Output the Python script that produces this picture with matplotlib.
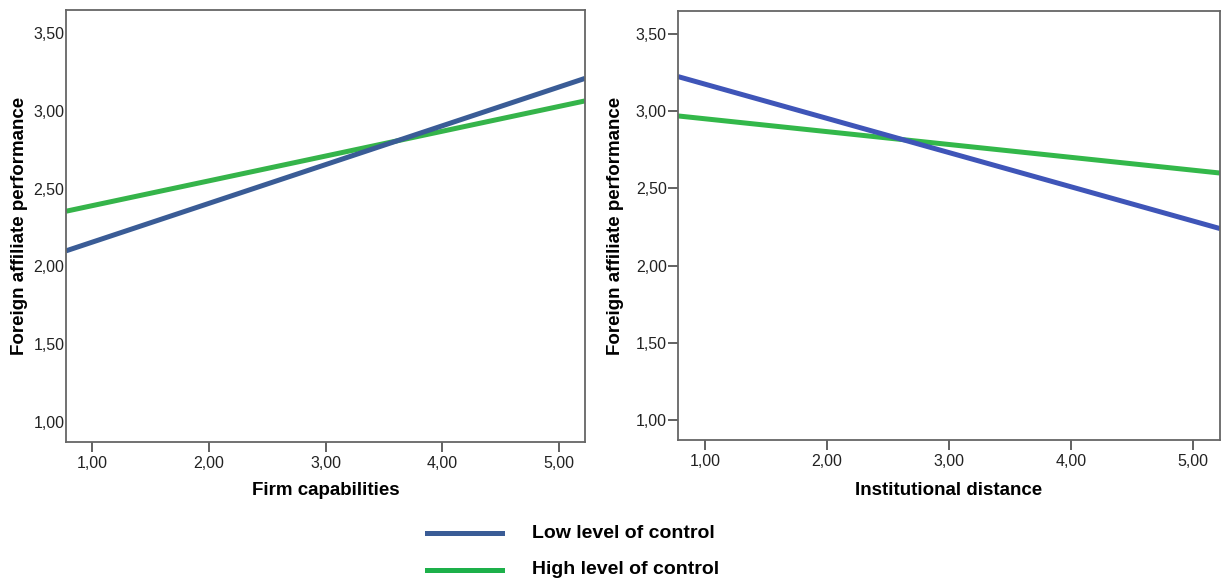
import matplotlib
matplotlib.use("Agg")
import matplotlib.pyplot as plt
from matplotlib.lines import Line2D
from matplotlib.ticker import FuncFormatter

plt.rcParams["font.family"] = ["Liberation Sans", "DejaVu Sans"]

# simple slopes, read at the axis edges
x_ends = [0.776, 5.224]
firm_low = [2.10, 3.21]
firm_high = [2.355, 3.065]
inst_low = [3.225, 2.24]
inst_high = [2.97, 2.60]

x_ticks = [1, 2, 3, 4, 5]
y_ticks = [1.0, 1.5, 2.0, 2.5, 3.0, 3.5]
legend_labels = ["Low level of control", "High level of control"]

W, H = 1222, 579
fig = plt.figure(figsize=(W / 100, H / 100), dpi=100)


def px_axes(x0, x1, y0, y1):
    return fig.add_axes([x0 / W, 1 - y1 / H, (x1 - x0) / W, (y1 - y0) / H])


comma = FuncFormatter(lambda v, p: f"{v:.2f}".replace(".", ","))

panels = [
    (px_axes(66, 585, 10, 442), "Firm capabilities", firm_low, firm_high,
     "#3A5C96", "#35B44A", False),
    (px_axes(678, 1220, 11, 440), "Institutional distance", inst_low, inst_high,
     "#3F55B8", "#33B84A", True),
]

for ax, xlabel, low, high, c_low, c_high, ytickmarks in panels:
    ax.plot(x_ends, high, color=c_high, lw=3.6, solid_capstyle="butt")
    ax.plot(x_ends, low, color=c_low, lw=3.6, solid_capstyle="butt")
    ax.set_xlim(0.776, 5.224)
    ax.set_ylim(0.87, 3.65)
    ax.set_xticks(x_ticks)
    ax.set_yticks(y_ticks)
    ax.xaxis.set_major_formatter(comma)
    ax.yaxis.set_major_formatter(comma)
    for s in ax.spines.values():
        s.set_color("#666666")
        s.set_linewidth(1.3)
    ax.tick_params(axis="x", direction="out", length=7, width=1.3,
                   color="#555555", labelsize=11.5, labelcolor="#222222", pad=3)
    ax.tick_params(axis="y", direction="out", length=7 if ytickmarks else 0,
                   width=1.3, color="#555555", labelsize=11.5,
                   labelcolor="#222222", pad=1)
    ax.set_xlabel(xlabel, fontsize=13.5, fontweight="bold")
    ax.set_ylabel("Foreign affiliate performance", fontsize=13.5, fontweight="bold")

panels[0][0].xaxis.set_label_coords(0.5, -0.092)
panels[1][0].xaxis.set_label_coords(0.5, -0.097)
panels[0][0].yaxis.set_label_coords(-0.073, 0.5)
panels[1][0].yaxis.set_label_coords(-0.099, 0.5)

# legend under the panels
legend_colors = ["#3A5C96", "#1DB04A"]
for i, (lab, col) in enumerate(zip(legend_labels, legend_colors)):
    y = 1 - (533 + 37 * i) / H
    fig.add_artist(Line2D([427 / W, 502 / W], [y, y], color=col, lw=3.6,
                          transform=fig.transFigure))
    fig.text(532 / W, y, lab, fontsize=14, fontweight="bold", va="center")

fig.savefig("out.png", dpi=100)
